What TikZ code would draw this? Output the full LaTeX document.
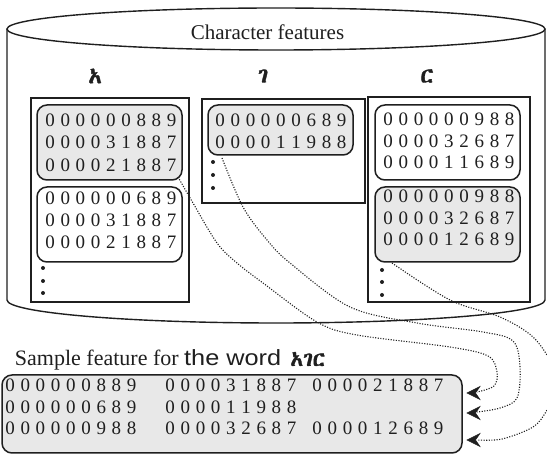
\documentclass[tikz,border=0pt]{standalone}
\usepackage{fontspec}
\setmainfont{Liberation Serif}
\newfontfamily\wordsans{Liberation Sans}
\IfFontExistsTF{FreeSerif.otf}
  {\newfontfamily\ethfont[FakeBold=2.5]{FreeSerif.otf}}
  {\IfFontExistsTF{Abyssinica SIL}
    {\newfontfamily\ethfont[FakeBold=1.5]{Abyssinica SIL}}
    {\newcommand\ethfont{}}}
\usetikzlibrary{calc}

% one digit per fixed-width cell, giving the wide tracking of the codes
\makeatletter
\newcommand\digrow[1]{\digrow@#1\relax}
\def\digrow@#1{\ifx#1\relax\else\makebox[15.2pt]{#1}\expandafter\digrow@\fi}
\makeatother

\definecolor{boxgray}{gray}{0.91}
\definecolor{ink}{gray}{0.12}

\begin{document}
\begin{tikzpicture}[x=1pt,y=-1pt,
  every node/.style={inner sep=0pt, outer sep=0pt},
  db/.style={draw=ink, line width=1.4pt, fill=white},
  column/.style={draw=ink, line width=1.6pt, fill=white, minimum width=158pt},
  codebox/.style={draw=ink, line width=1.5pt, rounded corners=10pt, minimum width=145pt},
  shaded/.style={codebox, fill=boxgray},
  plain/.style={codebox, fill=white},
  digits/.style={anchor=base west, font=\fontsize{19}{21}\selectfont, text=ink},
  glyph/.style={font=\ethfont\fontsize{22}{22}\selectfont, text=ink},
  dot/.style={circle, fill=ink, minimum size=4pt},
  link/.style={draw=ink, line width=1.1pt, dash pattern=on 1.1pt off 1.5pt},
  tiphead/.style={fill=ink, draw=ink, line width=0.5pt, line join=miter},
]
\useasboundingbox (0,0) rectangle (547,454);
\clip (0,0) rectangle (547,454);

% database cylinder
\path[db] (7,29) -- (7,300) arc[start angle=180, end angle=360, x radius=269pt, y radius=23pt] -- (545,29);
\draw[db] (276,29) ellipse[x radius=269pt, y radius=21pt];
\node[anchor=base, font=\fontsize{21}{21}\selectfont, text=ink] (title) at (267.5,39.5) {Character features};

% letter headings
\node[glyph] (la) at (95,76) {አ};
\node[glyph] (lg) at (263,76) {ገ};
\node[glyph] (lr) at (427,76) {ር};

% feature columns
\node[column, minimum height=204pt] (colA) at (110,200) {};
\node[column, minimum width=163pt, minimum height=104pt] (colG) at (283.5,151) {};
\node[column, minimum width=162pt, minimum height=205pt] (colR) at (449,199.5) {};

% column for A
\node[shaded, minimum height=75pt] (a1) at (109.5,142.5) {};
\node[digits] (a1r1) at (42.5,126.5) {\digrow{000000889}};
\node[digits] (a1r2) at (42.5,149) {\digrow{000031887}};
\node[digits] (a1r3) at (42.5,171.5) {\digrow{000021887}};
\node[plain, minimum height=75pt] (a2) at (109.5,224.5) {};
\node[digits] (a2r1) at (42.5,205) {\digrow{000000689}};
\node[digits] (a2r2) at (42.5,227) {\digrow{000031887}};
\node[digits] (a2r3) at (42.5,249) {\digrow{000021887}};
\node[dot] (ad1) at (43,268) {};
\node[dot] (ad2) at (43,281) {};
\node[dot] (ad3) at (43,293) {};

% column for G
\node[shaded, minimum height=50pt] (g1) at (280.5,130) {};
\node[digits] (g1r1) at (212.5,127) {\digrow{000000689}};
\node[digits] (g1r2) at (212.5,148.5) {\digrow{000011988}};
\node[dot] (gd1) at (213,162) {};
\node[dot] (gd2) at (213,175) {};
\node[dot] (gd3) at (213,188) {};

% column for R
\node[plain, minimum height=75pt] (r1) at (447.5,142.5) {};
\node[digits] (r1r1) at (380.5,125.5) {\digrow{000000988}};
\node[digits] (r1r2) at (380.5,147.5) {\digrow{000032687}};
\node[digits] (r1r3) at (380.5,169) {\digrow{000011689}};
\node[shaded, minimum height=75pt] (r2) at (447.5,224.5) {};
\node[digits] (r2r1) at (380.5,203) {\digrow{000000988}};
\node[digits] (r2r2) at (380.5,224.5) {\digrow{000032687}};
\node[digits] (r2r3) at (380.5,246) {\digrow{000012689}};
\node[dot] (rd1) at (382,270) {};
\node[dot] (rd2) at (382,282) {};
\node[dot] (rd3) at (382,295) {};

% sample feature of the word
\node[anchor=base west, font=\fontsize{22}{22}\selectfont, text=ink] (caption) at (15,366)
  {Sample feature for {\wordsans\scalebox{1.15}[1]{the word}}\hspace{9pt}{\ethfont\fontsize{21}{21}\selectfont አገር}};
\node[shaded, minimum width=460pt, minimum height=78pt] (sample) at (232,414) {};
\node[digits] (s11) at (2.5,392) {\digrow{000000889}};
\node[digits] (s12) at (162.5,392) {\digrow{000031887}};
\node[digits] (s13) at (309.5,392) {\digrow{000021887}};
\node[digits] (s21) at (2.5,413.5) {\digrow{000000689}};
\node[digits] (s22) at (162.5,413.5) {\digrow{000011988}};
\node[digits] (s31) at (2.5,435) {\digrow{000000988}};
\node[digits] (s32) at (162.5,435) {\digrow{000032687}};
\node[digits] (s33) at (309.5,435) {\digrow{000012689}};

% arrow tips at the right edge of the word feature, and where their curves end
\coordinate (in1) at ($(sample.east)+(5,-21)$);
\coordinate (in2) at ($(sample.east)+(5,-1)$);
\coordinate (in3) at ($(sample.east)+(5,26)$);
\coordinate (e1) at ($(in1)+(10,-1)$);
\coordinate (e2) at ($(in2)+(10,-1)$);
\coordinate (e3) at ($(in3)+(10,0)$);

% links from the selected codes to the rows of the word feature
\draw[link] plot[smooth, tension=0.55] coordinates {($(a1.south east)+(-4,-3)$) (193,203) (217,243) (237,263) (263,283) (317,322) (357,335) (450,347) (488,356) (497,372) (494,386) (e1)};
\draw[link] plot[smooth, tension=0.55] coordinates {($(g1.south west)+(14,3)$) (243,207) (267,240) (290,263) (350,307) (417,323) (483,332) (513,341) (520,367) (517,398) (500,408) (e2)};
\draw[link] plot[smooth, tension=0.55] coordinates {($(r2.south west)+(17,1)$) (450,300) (500,317) (533,337) (552,365) (555,390) (547,410) (533,427) (502,439) (e3)};

% stealth-shaped heads
\foreach \t in {in1,in2,in3}
  \filldraw[tiphead] (\t) -- ++(13,-6.5) -- ++(-4.5,6.5) -- ++(4.5,6.5) -- cycle;
\end{tikzpicture}
\end{document}
